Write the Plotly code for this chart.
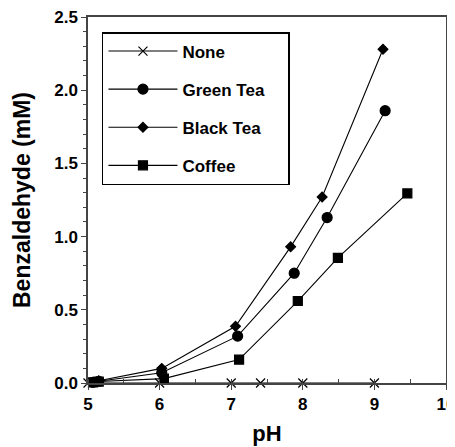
import plotly.graph_objects as go

none_ph = [5.0, 6.0, 7.0, 7.41, 8.0, 9.0]
none_val = [0, 0, 0, 0, 0, 0]

green_ph = [5.07, 5.15, 6.03, 7.09, 7.88, 8.34, 9.15]
green_val = [0.005, 0.012, 0.07, 0.32, 0.75, 1.13, 1.86]

black_ph = [5.07, 5.15, 6.03, 7.06, 7.83, 8.27, 9.12]
black_val = [0.006, 0.015, 0.10, 0.387, 0.93, 1.27, 2.28]

coffee_ph = [5.07, 5.15, 6.06, 7.11, 7.93, 8.49, 9.46]
coffee_val = [0.004, 0.01, 0.03, 0.16, 0.56, 0.855, 1.295]

series_names = ["None", "Green Tea", "Black Tea", "Coffee"]

series = [
    (series_names[0], none_ph, none_val, "x-thin-open", 9),
    (series_names[1], green_ph, green_val, "circle", 10),
    (series_names[2], black_ph, black_val, "diamond", 7.5),
    (series_names[3], coffee_ph, coffee_val, "square", 9),
]

PAD = "\u00a0" * 4  # invisible padding to widen the legend box

fig = go.Figure()
for i, (name, xs, ys, sym, sz) in enumerate(series):
    fig.add_trace(go.Scatter(
        x=xs, y=ys, name=name + PAD, mode="lines+markers",
        line=dict(color="black", width=1.1),
        marker=dict(symbol=sym, size=sz, color="black",
                    line=dict(color="black", width=1.2)),
        legendgroup=f"g{i}", cliponaxis=False,
    ))

font_family = "Liberation Sans, Arial, sans-serif"
fig.update_layout(
    width=447, height=439,
    margin=dict(l=80, r=9, t=9, b=64, autoexpand=False),
    paper_bgcolor="white", plot_bgcolor="white",
    font=dict(family=font_family, color="black"),
    showlegend=True,
    legend=dict(
        x=0.039, y=0.959, xanchor="left", yanchor="top",
        bordercolor="black", borderwidth=1.5, bgcolor="white",
        font=dict(size=17, family=font_family, weight="bold"),
        tracegroupgap=13, itemwidth=69,
    ),
    xaxis=dict(
        range=[5, 10], dtick=1, tick0=5, automargin=False,
        ticklabeloverflow="allow",
        showline=True, linecolor="#444", linewidth=1.5, mirror=True,
        ticks="outside", ticklen=5, tickcolor="#444", tickwidth=1.2,
        minor=dict(dtick=0.5, ticks="inside", ticklen=4, tickcolor="#444"),
        showgrid=False, zeroline=False,
        tickfont=dict(size=17, weight="bold"),
        title=dict(text="pH", font=dict(size=22, weight="bold"), standoff=12),
    ),
    yaxis=dict(
        range=[0, 2.5], dtick=0.5, tickformat=".1f", automargin=False,
        ticklabeloverflow="allow",
        showline=True, linecolor="#444", linewidth=1.5, mirror=True,
        ticks="outside", ticklen=5, tickcolor="#444", tickwidth=1.2,
        minor=dict(dtick=0.1, ticks="outside", ticklen=3, tickcolor="#444"),
        showgrid=False, zeroline=False,
        tickfont=dict(size=17, weight="bold"),
        title=dict(text="Benzaldehyde (mM)", font=dict(size=23, weight="bold"), standoff=17),
    ),
)

fig.write_html("out.html")
